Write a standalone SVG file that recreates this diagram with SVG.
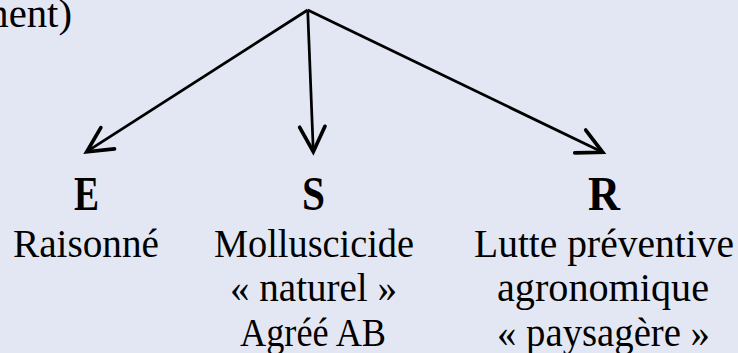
<svg xmlns="http://www.w3.org/2000/svg" width="738" height="353" viewBox="0 0 738 353">
  <style>
    .t { font-family: "Liberation Serif", "DejaVu Serif", serif; font-size: 40px; fill: #000; }
    .b { font-family: "Liberation Serif", "DejaVu Serif", serif; font-size: 48px; font-weight: bold; fill: #000; }
    .c { fill: none; stroke: #000; stroke-width: 2.75; }
  </style>
  <defs>
    <marker id="open" markerUnits="userSpaceOnUse" markerWidth="40" markerHeight="40" viewBox="-25 -15 30 30" refX="0" refY="0" orient="auto" overflow="visible">
      <path d="M -18.7 -9.5 L 0 0 L -18.7 9.5" fill="none" stroke="#000" stroke-width="2.75" stroke-linecap="round" stroke-linejoin="miter"/>
    </marker>
  </defs>
  <rect width="738" height="353" fill="#E3E7F3"/>

  <g id="top">
    <text class="t" x="-23" y="27" textLength="95" lengthAdjust="spacingAndGlyphs" font-size="38">ment)</text>
  </g>

  <g id="connectors">
    <line class="c" x1="307.7" y1="10" x2="86.7" y2="151.7" marker-end="url(#open)"/>
    <line class="c" x1="307.7" y1="10" x2="313.3" y2="151.7" marker-end="url(#open)"/>
    <line class="c" x1="307.7" y1="10" x2="602.7" y2="152.3" marker-end="url(#open)"/>
  </g>

  <g id="node-E">
    <text class="b" x="74" y="210" textLength="25" lengthAdjust="spacingAndGlyphs">E</text>
    <text class="t" x="13" y="257" textLength="146" lengthAdjust="spacingAndGlyphs">Raisonné</text>
  </g>

  <g id="node-S">
    <text class="b" x="302" y="210" textLength="23" lengthAdjust="spacingAndGlyphs">S</text>
    <text class="t" x="214" y="257" textLength="200" lengthAdjust="spacingAndGlyphs">Molluscicide</text>
    <text class="t" x="230" y="301" textLength="167" lengthAdjust="spacingAndGlyphs">« naturel »</text>
    <text class="t" x="240" y="346" textLength="146" lengthAdjust="spacingAndGlyphs">Agréé AB</text>
  </g>

  <g id="node-R">
    <text class="b" x="588" y="210" textLength="32" lengthAdjust="spacingAndGlyphs">R</text>
    <text class="t" x="474" y="257" textLength="260" lengthAdjust="spacingAndGlyphs">Lutte préventive</text>
    <text class="t" x="497" y="301" textLength="212" lengthAdjust="spacingAndGlyphs">agronomique</text>
    <text class="t" x="497" y="346" textLength="213" lengthAdjust="spacingAndGlyphs">« paysagère »</text>
  </g>
</svg>
